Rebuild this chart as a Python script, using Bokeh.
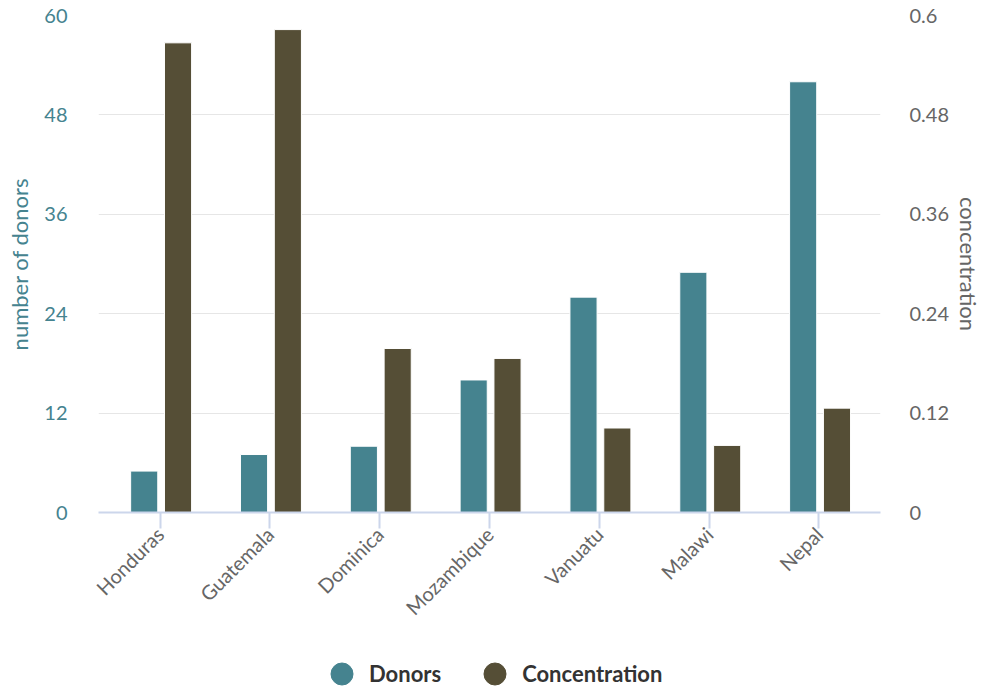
from bokeh.plotting import figure
from bokeh.layouts import column
from bokeh.models import (FactorRange, Range1d, LinearAxis, FixedTicker, ColumnDataSource,
                          Legend, LegendItem)
from bokeh.transform import dodge
from bokeh.embed import file_html
from bokeh.resources import INLINE
import math

countries = ["Honduras", "Guatemala", "Dominica", "Mozambique", "Vanuatu", "Malawi", "Nepal"]
donors = [5, 7, 8, 16, 26, 29, 52]
concentration = [0.567, 0.583, 0.198, 0.186, 0.102, 0.081, 0.126]
left_ticks = [0, 12, 24, 36, 48, 60]
right_ticks = [0, 0.12, 0.24, 0.36, 0.48, 0.6]

TEAL = "#45838f"
BROWN = "#554e36"
FONT = "Lato"

src = ColumnDataSource(dict(country=countries, donors=donors, conc=concentration))

p = figure(x_range=FactorRange(*countries, range_padding=0.0172),
           y_range=Range1d(0, 60), width=985, height=646,
           output_backend="svg", toolbar_location=None,
           min_border_left=98, min_border_right=105, min_border_top=15, min_border_bottom=134)
p.extra_y_ranges = {"conc": Range1d(0, 0.6)}
p.outline_line_color = None

p.vbar(x=dodge("country", -0.144, range=p.x_range), top="donors", width=0.247,
       source=src, fill_color=TEAL, line_color="white", line_width=1)
p.vbar(x=dodge("country", 0.164, range=p.x_range), top="conc", width=0.247,
       source=src, fill_color=BROWN, line_color="white", line_width=1, y_range_name="conc")

# left axis
ya = p.yaxis[0]
ya.ticker = FixedTicker(ticks=left_ticks)
ya.axis_line_color = None
ya.major_tick_line_color = None
ya.minor_tick_line_color = None
ya.major_label_standoff = 25
ya.major_label_text_color = TEAL
ya.major_label_text_font = FONT
ya.major_label_text_font_size = "20px"
ya.axis_label = "number of donors"
ya.axis_label_text_color = TEAL
ya.axis_label_text_font = FONT
ya.axis_label_text_font_size = "22px"
ya.axis_label_text_font_style = "normal"
ya.axis_label_standoff = 8

# right axis
ra = LinearAxis(y_range_name="conc", ticker=FixedTicker(ticks=right_ticks))
ra.axis_line_color = None
ra.major_tick_line_color = None
ra.minor_tick_line_color = None
ra.major_label_standoff = 23
ra.major_label_text_color = "#666666"
ra.major_label_text_font = FONT
ra.major_label_text_font_size = "20px"
ra.axis_label = "concentration"
ra.axis_label_text_color = "#666666"
ra.axis_label_text_font = FONT
ra.axis_label_text_font_size = "22px"
ra.axis_label_text_font_style = "normal"
ra.axis_label_standoff = 3
p.add_layout(ra, "right")

# x axis
xa = p.xaxis[0]
xa.axis_line_color = "#ccd6eb"
xa.axis_line_width = 2
xa.major_tick_line_color = "#ccd6eb"
xa.major_tick_line_width = 2
xa.major_tick_out = 16
xa.major_tick_in = 0
xa.minor_tick_line_color = None
xa.major_label_orientation = math.pi / 4
xa.major_label_text_color = "#666666"
xa.major_label_text_font = FONT
xa.major_label_text_font_size = "20px"
xa.major_label_standoff = 2

p.xgrid.grid_line_color = None
p.ygrid.grid_line_color = "#e6e6e6"
p.ygrid.grid_line_width = 1
p.ygrid.ticker = FixedTicker(ticks=left_ticks)

# legend strip: a second figure whose frame holds only the legend
pl = figure(x_range=p.x_range, y_range=Range1d(1000, 1001), width=985, height=40,
            output_backend="svg", toolbar_location=None,
            x_axis_location=None, y_axis_location=None, min_border=0)
pl.outline_line_color = None
pl.grid.grid_line_color = None
c1 = pl.scatter(x="country", y="donors", source=src, marker="circle", size=22,
                fill_color=TEAL, line_color=TEAL)
c2 = pl.scatter(x="country", y="conc", source=src, marker="circle", size=22,
                fill_color=BROWN, line_color=BROWN)
legend = Legend(items=[LegendItem(label="Donors", renderers=[c1]),
                       LegendItem(label="Concentration", renderers=[c2])],
                orientation="horizontal", location=(216, -15),
                glyph_width=55, glyph_height=55, label_standoff=-5, spacing=26,
                padding=0, margin=0, border_line_color=None, background_fill_alpha=0,
                label_text_font=FONT, label_text_font_size="22px",
                label_text_font_style="bold", label_text_color="#333333")
pl.add_layout(legend, "center")

layout = column(p, pl, spacing=0)
open("out.html", "w").write(file_html(layout, INLINE))
